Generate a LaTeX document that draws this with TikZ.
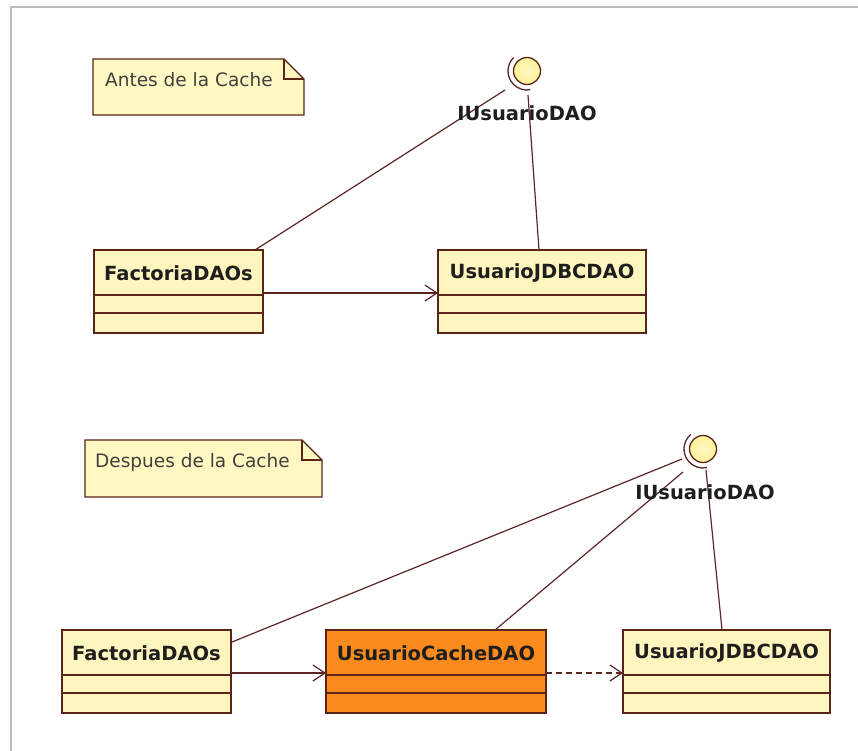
\documentclass[tikz,border=0pt]{standalone}
\usepackage{fontspec}
\setmainfont{DejaVu Sans}
\usetikzlibrary{arrows.meta,calc}

\definecolor{classfill}{HTML}{FFF5BE}
\definecolor{cachefill}{HTML}{F98A1E}
\definecolor{notefill}{HTML}{FFF8C2}
\definecolor{ifacefill}{HTML}{FFF29A}
\definecolor{edge}{HTML}{5A2416}
\definecolor{wire}{HTML}{5C2626}
\definecolor{framegray}{HTML}{BDBDBD}
\definecolor{ink}{HTML}{1E1E1E}

\tikzset{
  classbox/.style={draw=edge, line width=1.6pt, minimum height=83pt,
    inner sep=0pt, outer sep=0pt, rectangle},
  classline/.style={draw=edge, line width=1.6pt},
  classname/.style={text=ink, font=\fontsize{19.5pt}{23pt}\selectfont\bfseries,
    inner sep=0pt},
  notearea/.style={draw=none, inner sep=0pt, outer sep=0pt, rectangle},
  notebox/.style={draw=edge, fill=notefill, line width=1.4pt, line join=miter},
  notetext/.style={text=ink!85, font=\fontsize{18.5pt}{22pt}\selectfont,
    inner sep=0pt},
  iface/.style={circle, draw=edge, inner color=ifacefill!60!white, outer color=ifacefill,
    line width=1.3pt, minimum size=27pt, inner sep=0pt},
  socket/.style={draw=wire, line width=1.3pt},
  conn/.style={draw=wire, line width=1.2pt},
  openhead/.style={-{Straight Barb[length=12pt, width=16pt, line width=1.2pt]}},
  ifacelabel/.style={text=ink, font=\fontsize{19.5pt}{23pt}\selectfont\bfseries,
    inner sep=0pt}
}

% UML class with a name compartment and two empty compartments
\newcommand\umlclass[6]{%
  \node[classbox, fill=#6, minimum width=#4pt, anchor=north west] (#1) at (#2,#3) {};
  \draw[classline] ($(#1.north west)+(0,45)$) -- ($(#1.north east)+(0,45)$);
  \draw[classline] ($(#1.north west)+(0,63)$) -- ($(#1.north east)+(0,63)$);
  \node[classname] at ($(#1.north)+(0,23)$) {#5};
}

% note with a folded top-right corner
\newcommand\umlnote[5]{%
  \node[notearea, minimum width=#4pt, minimum height=#5pt, anchor=north west] (#1) at (#2,#3) {};
  \draw[notebox] (#1.north west) -- ($(#1.north east)+(-20,0)$)
    -- ($(#1.north east)+(0,20)$) -- (#1.south east) -- (#1.south west) -- cycle;
  \draw[notebox, fill=none] ($(#1.north east)+(-20,0)$) |- ($(#1.north east)+(0,20)$);
}

\begin{document}
\begin{tikzpicture}[x=1pt, y=-1pt]
  \useasboundingbox (0,0) rectangle (858,750);
  \fill[white] (0,0) rectangle (858,750);
  \draw[framegray, line width=2.8pt] (11,752) -- (11,7) -- (860,7);

  % ---------- before the cache ----------
  \umlnote{n1}{93}{59}{211}{56}
  \node[notetext, anchor=west] (t1) at (105,80) {Antes de la Cache};

  \umlclass{f1}{94}{250}{169}{FactoriaDAOs}{classfill}
  \umlclass{j1}{438}{250}{208}{UsuarioJDBCDAO}{classfill}

  \node[iface] (i1) at (527,71) {};
  \draw[socket] ([shift={(135:19pt)}]i1.center) arc[start angle=135, end angle=280, radius=19pt];
  \coordinate (i1use) at ($(i1.center)+(-22,19)$);
  \coordinate (i1real) at ($(i1.center)+(1,24)$);

  \draw[conn] ($(f1.north east)+(-8,0)$) -- (i1use);
  \draw[conn] ($(j1.north west)+(101,0)$) -- (i1real);
  \draw[conn, openhead] ($(f1.north east)+(0,43)$) -- ($(j1.north west)+(0,43)$);
  \node[ifacelabel] (l1) at (527,113) {IUsuarioDAO};

  % ---------- after the cache ----------
  \umlnote{n2}{85}{440}{237}{57}
  \node[notetext, anchor=west] (t2) at (95,462) {Despues de la Cache};

  \umlclass{f2}{62}{630}{169}{FactoriaDAOs}{classfill}
  \umlclass{c2}{326}{630}{220}{UsuarioCacheDAO}{cachefill}
  \umlclass{j2}{623}{630}{207}{UsuarioJDBCDAO}{classfill}

  \node[iface] (i2) at (703,449) {};
  \draw[socket] ([shift={(130:19pt)}]i2.center) arc[start angle=130, end angle=282, radius=19pt];
  \coordinate (i2useA) at ($(i2.center)+(-21,10)$);
  \coordinate (i2useB) at ($(i2.center)+(-20,23)$);
  \coordinate (i2real) at ($(i2.center)+(3,21)$);

  \draw[conn] ($(f2.north east)+(1,12)$) -- (i2useA);
  \draw[conn] ($(c2.north west)+(169,0)$) -- (i2useB);
  \draw[conn] ($(j2.north west)+(99,0)$) -- (i2real);
  \draw[conn, openhead] ($(f2.north east)+(0,43)$) -- ($(c2.north west)+(0,43)$);
  \draw[conn, openhead, dash pattern=on 6pt off 4pt] ($(c2.north east)+(0,43)$) -- ($(j2.north west)+(0,43)$);
  \node[ifacelabel] (l2) at (705,492) {IUsuarioDAO};
\end{tikzpicture}
\end{document}
